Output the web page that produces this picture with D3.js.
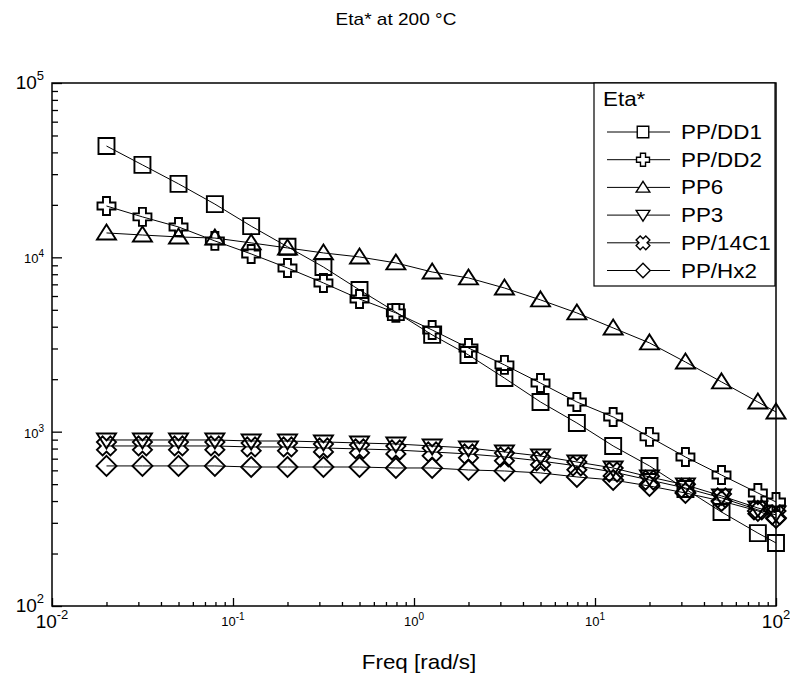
<!DOCTYPE html>
<meta charset="utf-8">
<style>
    body { margin: 0; background: #fff; }
    text { font-family: "Liberation Sans", Arial, sans-serif; fill: #000; }
    .frame { fill: none; stroke: #000; stroke-width: 1.5px; }
    .link { fill: none; stroke: #000; stroke-width: 1px; }
    .mark { fill: none; stroke: #000; stroke-width: 1.9px; stroke-linejoin: miter; }
</style>
<body>
<script src="https://d3js.org/d3.v7.min.js"></script>
<script>
    // angular frequency, rad/s
    var freq = [0.02, 0.0316, 0.05, 0.0794, 0.126, 0.2, 0.316, 0.5, 0.794, 1.26,
                2, 3.16, 5, 7.94, 12.6, 20, 31.6, 50, 79.4, 100];

    // complex viscosity, Pa.s
    var ppDD1 = [43500, 33900, 26400, 20200, 15100, 11500, 8800, 6500, 4850, 3590,
                 2755, 2030, 1480, 1122, 828, 636, 469, 346, 262, 230];
    var ppDD2 = [19700, 17060, 14940, 12420, 10460, 8690, 7130, 5770, 4800, 3830,
                 3020, 2415, 1900, 1480, 1214, 933, 716, 564, 445, 395];
    var pp6 = [13800, 13430, 13090, 12900, 12100, 11320, 10600, 10050, 9290, 8240,
               7620, 6670, 5700, 4800, 3935, 3230, 2510, 1930, 1480, 1297];
    var pp3 = [896, 896, 896, 896, 884, 884, 873, 861, 850, 828,
               806, 765, 725, 670, 619, 550, 495, 428, 365, 342];
    var pp14C1 = [828, 828, 828, 828, 817, 817, 806, 796, 785, 765,
                  745, 716, 679, 636, 587, 528, 475, 417, 356, 333];
    var ppHx2 = [636, 636, 636, 636, 627, 627, 627, 627, 619, 619,
                 603, 595, 580, 550, 528, 488, 445, 400, 351, 320];

    var seriesNames = ["PP/DD1", "PP/DD2", "PP6", "PP3", "PP/14C1", "PP/Hx2"];
    var seriesValues = [ppDD1, ppDD2, pp6, pp3, pp14C1, ppHx2];
    var seriesShapes = ["square", "plus", "up", "down", "xcross", "diamond"];

    var xTicks = [0.01, 0.1, 1, 10, 100];
    var xExp = ["-2", "-1", "0", "1", "2"];
    var yTicks = [100, 1000, 10000, 100000];
    var yExp = ["2", "3", "4", "5"];

    var W = 790, H = 688;
    var plot = { left: 52, right: 776, top: 83, bottom: 606 };

    var x = d3.scaleLog().domain([0.01, 100]).range([plot.left, plot.right]);
    var y = d3.scaleLog().domain([100, 100000]).range([plot.bottom, plot.top]);

    var svg = d3.select("body").append("svg")
        .attr("width", W)
        .attr("height", H);

    // marker outlines, k scales them
    function poly(pts, k) {
        return "M" + pts.map(function(p) { return [p[0] * k, p[1] * k].join(","); }).join("L") + "Z";
    }
    function plusPts(r, a) {
        return [[-a, -r], [a, -r], [a, -a], [r, -a], [r, a], [a, a], [a, r], [-a, r],
                [-a, a], [-r, a], [-r, -a], [-a, -a]];
    }
    function shapePath(name, k) {
        if (name === "square") return poly([[-8, -8], [8, -8], [8, 8], [-8, 8]], k);
        if (name === "plus") return poly(plusPts(9, 3.5), k);
        if (name === "up") return poly([[0, -8.5], [9.5, 6.5], [-9.5, 6.5]], k);
        if (name === "down") return poly([[0, 8.5], [9.5, -6.5], [-9.5, -6.5]], k);
        if (name === "diamond") return poly([[0, -10], [10, 0], [0, 10], [-10, 0]], k);
        // rotated cross with wide arms
        var c = Math.SQRT1_2;
        return poly(plusPts(9.5, 4).map(function(p) {
            return [(p[0] - p[1]) * c, (p[0] + p[1]) * c];
        }), k);
    }

    // stretched text, like the original export
    function label(g, tx, ty, str, size, anchor) {
        g.append("text")
            .attr("transform", "translate(" + tx + "," + ty + ") scale(1.12,1)")
            .attr("text-anchor", anchor)
            .style("font-size", size + "px")
            .text(str);
    }

    // minor tick values
    var minors = [];
    [0.01, 0.1, 1, 10].forEach(function(d) {
        for (var i = 2; i <= 9; i++) minors.push(d * i);
    });
    var yMinors = [];
    [100, 1000, 10000].forEach(function(d) {
        for (var i = 2; i <= 9; i++) yMinors.push(d * i);
    });

    // axes with ticks pointing inward
    function cleanAxis(g) {
        g.select(".domain").remove();
        g.selectAll("text").remove();
        g.selectAll("line").attr("stroke", "#000").attr("stroke-width", 1.3);
    }
    svg.append("g").attr("transform", "translate(0," + plot.bottom + ")")
        .call(d3.axisBottom(x).tickValues(xTicks).tickSize(-8)).call(cleanAxis);
    svg.append("g").attr("transform", "translate(0," + plot.bottom + ")")
        .call(d3.axisBottom(x).tickValues(minors).tickSize(-4)).call(cleanAxis);
    svg.append("g").attr("transform", "translate(" + plot.left + ",0)")
        .call(d3.axisLeft(y).tickValues(yTicks).tickSize(-10)).call(cleanAxis);
    svg.append("g").attr("transform", "translate(" + plot.left + ",0)")
        .call(d3.axisLeft(y).tickValues(yMinors).tickSize(-6)).call(cleanAxis);

    svg.append("rect").attr("class", "frame")
        .attr("x", plot.left).attr("y", plot.top)
        .attr("width", plot.right - plot.left).attr("height", plot.bottom - plot.top);

    // tick labels, the end ones drawn larger
    xTicks.forEach(function(d, i) {
        var big = (i === 0 || i === xTicks.length - 1);
        var t = svg.append("text")
            .attr("x", x(d))
            .attr("y", plot.bottom + (big ? 22 : 20))
            .attr("text-anchor", "middle")
            .style("font-size", (big ? 19 : 13) + "px");
        t.append("tspan").text("10");
        t.append("tspan").attr("dy", big ? -9 : -6)
            .style("font-size", (big ? 13 : 10) + "px").text(xExp[i]);
    });
    yTicks.forEach(function(d, i) {
        var big = (i === 0 || i === yTicks.length - 1);
        var t = svg.append("text")
            .attr("x", 44)
            .attr("y", y(d) + 6)
            .attr("text-anchor", "end")
            .style("font-size", (big ? 19 : 13) + "px");
        t.append("tspan").text("10");
        t.append("tspan").attr("dy", big ? -9 : -6)
            .style("font-size", (big ? 13 : 10) + "px").text(yExp[i]);
    });

    label(svg, 396, 25, "Eta* at 200 \u00b0C", 17, "middle");
    label(svg, 419, 669, "Freq [rad/s]", 20, "middle");

    // series
    var line = d3.line()
        .x(function(d) { return x(d[0]); })
        .y(function(d) { return y(d[1]); });

    seriesValues.forEach(function(vals, s) {
        var pts = freq.map(function(f, i) { return [f, vals[i]]; });
        var g = svg.append("g");
        g.append("path").attr("class", "link").attr("d", line(pts));
        g.selectAll(".mark")
            .data(pts)
            .enter().append("path")
            .attr("class", "mark")
            .attr("transform", function(d) {
                return "translate(" + x(d[0]) + "," + y(d[1]) + ")";
            })
            .attr("d", shapePath(seriesShapes[s], 1));
    });

    // legend
    var lg = svg.append("g");
    lg.append("rect")
        .attr("x", 594).attr("y", plot.top)
        .attr("width", plot.right - 1 - 594).attr("height", 203)
        .attr("fill", "#fff").attr("stroke", "#000").attr("stroke-width", 1.2);
    label(lg, 603, 106, "Eta*", 20, "start");
    seriesNames.forEach(function(name, s) {
        var cy = 132 + s * 27.7;
        lg.append("line")
            .attr("x1", 607).attr("x2", 670)
            .attr("y1", cy).attr("y2", cy)
            .attr("stroke", "#000").attr("stroke-width", 1);
        lg.append("path").attr("class", "mark")
            .attr("transform", "translate(643," + cy + ")")
            .style("fill", "#fff")
            .style("stroke-width", "1.4px")
            .attr("d", shapePath(seriesShapes[s], 0.72));
        label(lg, 681, cy + 7, name, 20, "start");
    });
</script>
</body>
